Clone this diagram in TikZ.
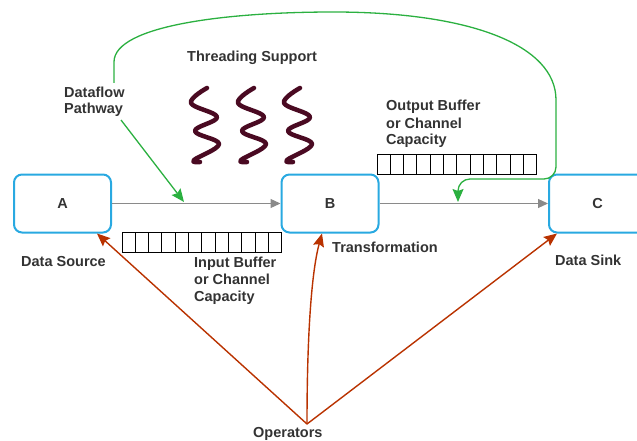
\documentclass[tikz,border=0pt]{standalone}
\usepackage{fontspec}
\setmainfont{Liberation Sans}
\usetikzlibrary{arrows.meta}
\definecolor{boxblue}{HTML}{29A9E1}
\definecolor{flowgray}{HTML}{8A8A8A}
\definecolor{pathgreen}{HTML}{2BB040}
\definecolor{opred}{HTML}{B93200}
\definecolor{threadmaroon}{HTML}{4A0A22}
\definecolor{labelgray}{HTML}{333333}
\begin{document}
\begin{tikzpicture}[x=1pt,y=-1pt,
  labelfont/.style={font=\bfseries\fontsize{14.5}{17}\selectfont, text=labelgray},
  stage/.style={labelfont, draw=boxblue, line width=2pt, rounded corners=8pt,
    minimum width=97pt, minimum height=58pt},
  lbl/.style={labelfont, align=left, inner sep=0pt, anchor=base west},
  flow/.style={draw=flowgray, line width=1.2pt, -{Triangle[length=10pt,width=9pt]}},
  pathway/.style={draw=pathgreen, line width=1.3pt, -{Stealth[length=13pt,width=11pt,inset=2pt]}},
  opline/.style={draw=opred, line width=1.4pt, -{Stealth[length=13pt,width=11pt,inset=2pt]}},
  cell/.style={draw=black, line width=1pt},
  thread/.style={draw=threadmaroon, line width=4.5pt, line cap=round, line join=round}
]
\useasboundingbox (0,0) rectangle (637,441);
\clip (0,0) rectangle (637,441);

% pipeline stages
\node[stage] (A) at (62.5,203.5) {A};
\node[stage] (B) at (330,203.5) {B};
\node[stage] (C) at (597.5,203.5) {C};

% data flow between stages
\draw[flow] (A.east) -- (B.west);
\draw[flow] (B.east) -- (C.west);

% buffers (12 slots each)
\foreach \i in {0,...,11}
  \draw[cell] (122+\i*13.33,232) rectangle ++(13.33,20);
\foreach \i in {0,...,11}
  \draw[cell] (377+\i*13.33,154) rectangle ++(13.33,20);

% labels (base anchor of a multi-line label sits on its last line)
\node[lbl] (srclbl) at (21,266) {Data Source};
\node[lbl] (inbuf) at (194,301) {Input Buffer\\or Channel\\Capacity};
\node[lbl] (outbuf) at (386,145) {Output Buffer\\or Channel\\Capacity};
\node[lbl] (translbl) at (332,252) {Transformation};
\node[lbl] (sinklbl) at (555,265) {Data Sink};
\node[lbl] (threads) at (187,62) {Threading Support};
\node[lbl] (dfp) at (64,114) {Dataflow\\Pathway};
\node[lbl] (ops) at (253,437) {Operators};

% threads
\foreach \dx in {0,47,93}
  \draw[thread, xshift=\dx pt] plot[smooth, tension=0.65] coordinates
    {(207,88) (191,103) (217,117) (195,131) (219,144) (194,160) (200,162)};

% dataflow pathway arrows
\coordinate (dfptop) at (114,83);
\coordinate (dfpbot) at (121,120);
\coordinate (abhit) at (184,202);
\coordinate (bchit) at (458,202);
\draw[pathway] (dfpbot) -- (abhit);
\draw[pathway] (dfptop) -- (114,62)
  .. controls (114,25) and (230,12) .. (333,12)
  .. controls (470,12) and (556,45) .. (556,100)
  [rounded corners=12pt] -- (556,179) -- (458,179) -- (bchit);

% operators
\coordinate (op) at (307,424);
\draw[opline] (op) -- ([xshift=-15pt]A.south east);
\draw[opline] (op) .. controls (307,330) and (312,270) .. ([xshift=-8pt]B.south);
\draw[opline] (op) -- ([xshift=9pt]C.south west);
\end{tikzpicture}
\end{document}
